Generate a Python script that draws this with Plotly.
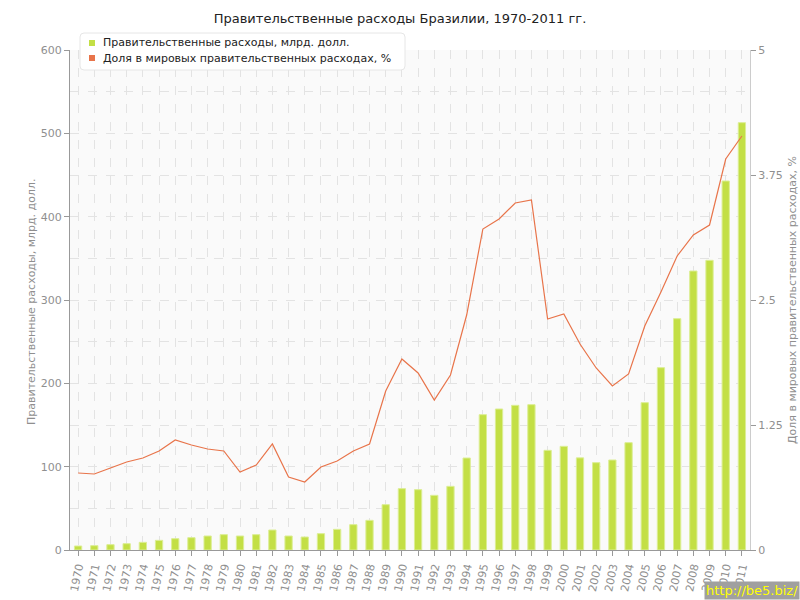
import plotly.graph_objects as go

years = [str(y) for y in range(1970, 2012)]
spending = [4.8, 5.2, 6.4, 7.6, 9.2, 11.6, 13.6, 14.8, 16.8, 18.4,
            16.8, 18.4, 24.0, 16.8, 15.6, 19.6, 24.8, 30.4, 35.6, 54.4,
            73.6, 72.4, 65.6, 76.4, 110.4, 162.4, 169.2, 173.6, 174.4, 119.6,
            124.4, 110.6, 104.8, 108.0, 128.8, 176.8, 218.8, 277.6, 334.8, 347.6,
            442.8, 512.8]
share = [0.77, 0.76, 0.82, 0.88, 0.92, 0.99, 1.10, 1.05, 1.01, 0.99,
         0.78, 0.85, 1.06, 0.73, 0.68, 0.83, 0.89, 0.99, 1.06, 1.59,
         1.91, 1.77, 1.50, 1.75, 2.35, 3.21, 3.31, 3.47, 3.50, 2.31,
         2.36, 2.06, 1.82, 1.64, 1.76, 2.24, 2.58, 2.94, 3.15, 3.25,
         3.91, 4.14]

title = "Правительственные расходы Бразилии, 1970-2011 гг."
name1 = "Правительственные расходы, млрд. долл."
name2 = "Доля в мировых правительственных расходах, %"
ytitle1 = "Правительственные расходы, млрд. долл."
ytitle2 = "Доля в мировых правительственных расходах, %"

BAR = "#c3df45"
LINE = "#e8744a"
GRID = "#e3e3e3"
TICK = "#8f8f8f"
FONT = "DejaVu Sans"

L, R, T, B = 70, 50, 50, 50
PW, PH = 800 - L - R, 600 - T - B


def px(x):
    return (x - L) / PW


def py(y):
    return 1 - (y - T) / PH


fig = go.Figure()
fig.add_trace(go.Bar(x=years, y=spending, width=0.45, name=name1, showlegend=False,
                     marker=dict(color=BAR, line=dict(color="#dcee94", width=1))))
fig.add_trace(go.Scatter(x=years, y=share, yaxis="y2", mode="lines", name=name2,
                         showlegend=False, line=dict(color=LINE, width=1.2)))

# manual legend: rounded white panel, square swatches, labels
fig.add_shape(type="path", xref="paper", yref="paper", layer="above",
              path=("M {a},{b} L {c},{b} Q {d},{b} {d},{e} L {d},{f} Q {d},{g} {c},{g} "
                    "L {a},{g} Q {h},{g} {h},{f} L {h},{e} Q {h},{b} {a},{b} Z").format(
                  a=px(84), c=px(401), d=px(405), h=px(80),
                  b=py(33), e=py(37), f=py(66), g=py(70)),
              fillcolor="white", line=dict(color="#e6e6e6", width=1))
for yc, col, txt in [(43, BAR, name1), (58, LINE, name2)]:
    fig.add_shape(type="rect", xref="paper", yref="paper", layer="above",
                  x0=px(89), x1=px(95), y0=py(yc + 3), y1=py(yc - 3),
                  fillcolor=col, line=dict(width=0))
    fig.add_annotation(text=txt, xref="paper", yref="paper", x=px(101), y=py(yc),
                       xanchor="left", yanchor="middle", showarrow=False,
                       font=dict(family=FONT, size=11, color="#222222"))

# left axis title
fig.add_annotation(text=ytitle1, xref="paper", yref="paper", x=px(31), y=py(302),
                   xanchor="center", yanchor="middle", textangle=-90, showarrow=False,
                   font=dict(family=FONT, size=11, color=TICK))

fig.update_layout(
    width=800, height=600,
    margin=dict(l=L, r=R, t=T, b=B),
    paper_bgcolor="white", plot_bgcolor="#fafafa",
    font=dict(family=FONT, size=11, color=TICK),
    title=dict(text=title, x=0.5, xanchor="center", y=0.97, yanchor="middle",
               font=dict(family=FONT, size=13, color="#222222")),
    showlegend=False,
    xaxis=dict(type="category", range=[-0.5, 41.5], tickangle=-78, automargin=False,
               showgrid=True, gridcolor=GRID, griddash="dash", gridwidth=1,
               showline=True, linecolor="#999999", linewidth=1,
               ticks="outside", ticklen=5, tickcolor="#999999",
               tickfont=dict(family=FONT, size=11, color=TICK)),
    yaxis=dict(range=[0, 600], dtick=100, showgrid=True, gridcolor=GRID, griddash="dash",
               automargin=False,
               minor=dict(dtick=50, showgrid=True, gridcolor=GRID, griddash="dash"),
               showline=True, linecolor="#999999", linewidth=1,
               ticks="outside", ticklen=5, tickcolor="#999999", zeroline=False,
               tickfont=dict(family=FONT, size=11, color=TICK)),
    yaxis2=dict(range=[0, 5], dtick=1.25, overlaying="y", side="right", showgrid=False,
                automargin=False,
                showline=True, linecolor="#cccccc", linewidth=1, zeroline=False,
                ticks="outside", ticklen=5, tickcolor="#999999",
                title=dict(text=ytitle2, font=dict(family=FONT, size=11, color=TICK), standoff=6),
                tickfont=dict(family=FONT, size=11, color=TICK)),
    bargap=0.5,
)

fig.add_annotation(text="http://be5.biz/", xref="paper", yref="paper",
                   x=px(800), y=py(600), xanchor="right", yanchor="bottom",
                   showarrow=False, bgcolor="#a0a0a0",
                   font=dict(family=FONT, size=13, color="#ffff00"), borderpad=1)

fig.write_html("out.html", config={"displayModeBar": False},
               post_script="document.body.style.margin='0';")
